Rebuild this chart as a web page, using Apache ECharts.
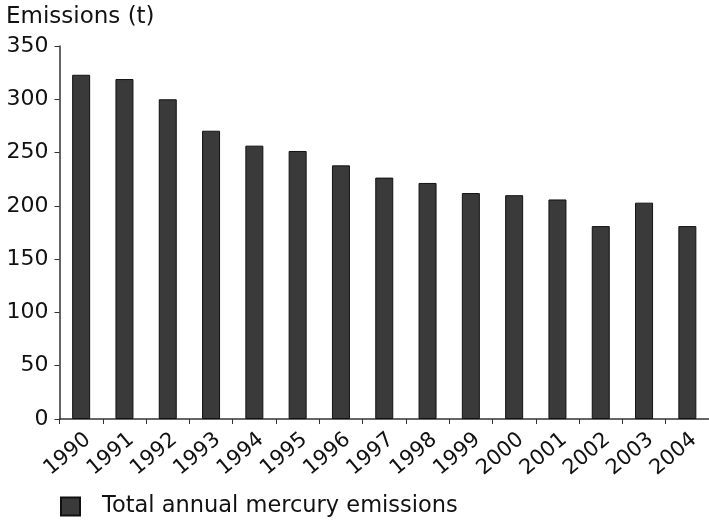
<!DOCTYPE html>
<html>
<head>
<meta charset="utf-8">
<script src="https://cdn.jsdelivr.net/npm/echarts@6/dist/echarts.min.js"></script>
<style>
  html, body { margin: 0; padding: 0; background: #fff; }
  #chart { width: 709px; height: 520px; }
</style>
</head>
<body>
<div id="chart"></div>
<script>
// Total annual mercury emissions, tonnes per year
const years = ['1990', '1991', '1992', '1993', '1994', '1995', '1996', '1997',
               '1998', '1999', '2000', '2001', '2002', '2003', '2004'];
const emissions = [323, 319, 300, 270.5, 256.5, 251.5, 238, 226.5,
                   221.5, 212, 210, 206, 181, 203, 181];
const seriesName = 'Total annual mercury emissions';
const yAxisTitle = 'Emissions (t)';

const FONT = '"DejaVu Sans", Verdana, sans-serif';
const chart = echarts.init(document.getElementById('chart'), null, { renderer: 'canvas' });

chart.setOption({
  animation: false,
  backgroundColor: '#ffffff',
  textStyle: { fontFamily: FONT, color: '#000' },
  title: {
    text: yAxisTitle,
    left: 1,
    top: 1,
    textStyle: { fontFamily: FONT, fontSize: 23, fontWeight: 'normal', color: '#111' }
  },
  grid: { left: 59.5, width: 654, top: 46, height: 373, containLabel: false },
  legend: {
    left: 55,
    top: 490,
    itemWidth: 19,
    itemHeight: 18,
    icon: 'rect',
    textStyle: { fontFamily: FONT, fontSize: 22.5, color: '#111', padding: [0, 0, 0, 17] },
    data: [seriesName]
  },
  xAxis: {
    type: 'category',
    data: years,
    boundaryGap: true,
    axisLine: { lineStyle: { color: '#333', width: 1.5 } },
    axisTick: { show: true, length: 5, alignWithLabel: false, lineStyle: { color: '#333' } },
    axisLabel: { rotate: 40, fontFamily: FONT, fontSize: 21, color: '#111', margin: 10,
                 interval: 0, verticalAlign: 'top' },
    splitLine: { show: false }
  },
  yAxis: {
    type: 'value',
    min: 0,
    max: 350,
    interval: 50,
    axisLine: { show: true, lineStyle: { color: '#333', width: 1.5 } },
    axisTick: { show: true, length: 5, lineStyle: { color: '#333' } },
    axisLabel: { fontFamily: FONT, fontSize: 22, color: '#111', margin: 11 },
    splitLine: { show: false }
  },
  series: [{
    name: seriesName,
    type: 'bar',
    data: emissions,
    barWidth: 18,
    itemStyle: { color: '#3a3a3a', borderColor: '#111', borderWidth: 1 }
  }]
});
</script>
</body>
</html>
